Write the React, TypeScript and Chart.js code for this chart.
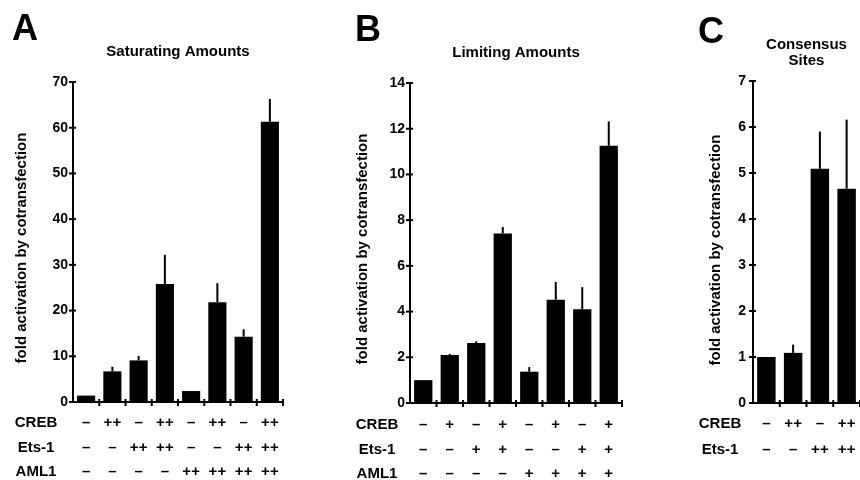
import React, { useEffect, useRef } from 'react';
import { Chart, registerables } from 'chart.js';

Chart.register(...registerables);

const FONT = '"Liberation Sans", Arial, Helvetica, sans-serif';

// ---------- Panel A: Saturating Amounts ----------
const categoriesA = ['1', '2', '3', '4', '5', '6', '7', '8'];
const valuesA = [1.4, 6.7, 9.1, 25.8, 2.4, 21.8, 14.3, 61.3];
const errorsA = [0, 1.0, 1.0, 6.4, 0, 4.2, 1.6, 5.0];
const yTicksA = [0, 10, 20, 30, 40, 50, 60, 70];
const crebA = ['–', '++', '–', '++', '–', '++', '–', '++'];
const ets1A = ['–', '–', '++', '++', '–', '–', '++', '++'];
const aml1A = ['–', '–', '–', '–', '++', '++', '++', '++'];

// ---------- Panel B: Limiting Amounts ----------
const categoriesB = ['1', '2', '3', '4', '5', '6', '7', '8'];
const valuesB = [1.0, 2.1, 2.62, 7.42, 1.37, 4.52, 4.1, 11.25];
const errorsB = [0, 0.05, 0.08, 0.28, 0.2, 0.78, 0.97, 1.07];
const yTicksB = [0, 2, 4, 6, 8, 10, 12, 14];
const crebB = ['–', '+', '–', '+', '–', '+', '–', '+'];
const ets1B = ['–', '–', '+', '+', '–', '–', '+', '+'];
const aml1B = ['–', '–', '–', '–', '+', '+', '+', '+'];

// ---------- Panel C: Consensus Sites ----------
const categoriesC = ['1', '2', '3', '4'];
const valuesC = [1.0, 1.09, 5.09, 4.66];
const errorsC = [0, 0.18, 0.81, 1.5];
const yTicksC = [0, 1, 2, 3, 4, 5, 6, 7];
const crebC = ['–', '++', '–', '++'];
const ets1C = ['–', '–', '++', '++'];

const yAxisTitle = 'fold activation by cotransfection';

interface Panel {
  left: number;
  width: number;
  letter: string;
  letterX: number;
  letterY: number;
  title: string[];
  titleY: number[];
  categories: string[];
  values: number[];
  errors: number[];
  yTicks: number[];
  rows: { name: string; marks: string[] }[];
  rowY: number[];
  rowNameX: number;
  yTitleX: number;
  yTitleY: number;
  axisWidth: number;
  padTop: number;
  padRight: number;
  padBottom: number;
  tickPad: number;
}

const panels: Panel[] = [
  {
    left: 0, width: 330, letter: 'A', letterX: 12, letterY: 40,
    title: ['Saturating Amounts'], titleY: [52],
    categories: categoriesA, values: valuesA, errors: errorsA, yTicks: yTicksA,
    rows: [
      { name: 'CREB', marks: crebA },
      { name: 'Ets-1', marks: ets1A },
      { name: 'AML1', marks: aml1A },
    ],
    rowY: [21, 46, 70], rowNameX: 36, yTitleX: 22, yTitleY: 248,
    axisWidth: 73, padTop: 82, padRight: 47, padBottom: 68, tickPad: 5,
  },
  {
    left: 330, width: 300, letter: 'B', letterX: 25, letterY: 41,
    title: ['Limiting Amounts'], titleY: [53],
    categories: categoriesB, values: valuesB, errors: errorsB, yTicks: yTicksB,
    rows: [
      { name: 'CREB', marks: crebB },
      { name: 'Ets-1', marks: ets1B },
      { name: 'AML1', marks: aml1B },
    ],
    rowY: [22, 47, 71], rowNameX: 47, yTitleX: 33, yTitleY: 249,
    axisWidth: 80, padTop: 83, padRight: 8, padBottom: 67, tickPad: 5,
  },
  {
    left: 630, width: 230, letter: 'C', letterX: 68, letterY: 43,
    title: ['Consensus', 'Sites'], titleY: [45, 61],
    categories: categoriesC, values: valuesC, errors: errorsC, yTicks: yTicksC,
    rows: [
      { name: 'CREB', marks: crebC },
      { name: 'Ets-1', marks: ets1C },
    ],
    rowY: [21, 47], rowNameX: 90, yTitleX: 86, yTitleY: 250,
    axisWidth: 123, padTop: 81, padRight: 0, padBottom: 67, tickPad: 7,
  },
];

function makeDecor(p: Panel) {
  return {
    id: 'decor' + p.letter,
    afterDatasetsDraw(chart: any) {
      const ctx = chart.ctx;
      const yScale = chart.scales.y;
      const meta = chart.getDatasetMeta(0);
      ctx.save();
      ctx.strokeStyle = '#000';
      ctx.lineWidth = 2;
      meta.data.forEach((el: any, i: number) => {
        const e = p.errors[i];
        if (!e) return;
        const yTop = yScale.getPixelForValue(p.values[i] + e);
        ctx.beginPath();
        ctx.moveTo(el.x, el.y);
        ctx.lineTo(el.x, yTop);
        ctx.stroke();
      });
      ctx.restore();
    },
    afterDraw(chart: any) {
      const ctx = chart.ctx;
      const ca = chart.chartArea;
      const xScale = chart.scales.x;
      const yScale = chart.scales.y;
      ctx.save();
      ctx.fillStyle = '#000';
      ctx.strokeStyle = '#000';
      ctx.lineWidth = 2;

      // y tick marks crossing the axis
      yScale.ticks.forEach((t: any) => {
        const y = yScale.getPixelForValue(t.value);
        ctx.beginPath();
        ctx.moveTo(ca.left - 4, y);
        ctx.lineTo(ca.left + 3, y);
        ctx.stroke();
      });
      // x tick marks at category boundaries
      const n = p.categories.length;
      for (let i = 1; i <= n; i++) {
        const x = ca.left + (i * (ca.right - ca.left)) / n;
        ctx.beginPath();
        ctx.moveTo(x, ca.bottom - 3);
        ctx.lineTo(x, ca.bottom + 4);
        ctx.stroke();
      }

      // panel letter
      ctx.font = `bold 36px ${FONT}`;
      ctx.textAlign = 'left';
      ctx.textBaseline = 'alphabetic';
      ctx.fillText(p.letter, p.letterX, p.letterY);

      // title
      ctx.font = `bold 15px ${FONT}`;
      ctx.textAlign = 'center';
      ctx.textBaseline = 'middle';
      const cx = (ca.left + ca.right) / 2;
      p.title.forEach((line, i) => ctx.fillText(line, cx, p.titleY[i]));

      // y-axis title
      ctx.save();
      ctx.font = `bold 15px ${FONT}`;
      ctx.translate(p.yTitleX, p.yTitleY);
      ctx.rotate(-Math.PI / 2);
      ctx.textAlign = 'center';
      ctx.textBaseline = 'middle';
      ctx.fillText(yAxisTitle, 0, 0);
      ctx.restore();

      // condition rows
      ctx.font = `bold 15px ${FONT}`;
      ctx.textAlign = 'center';
      ctx.textBaseline = 'middle';
      p.rows.forEach((row, r) => {
        const y = ca.bottom + p.rowY[r];
        ctx.fillText(row.name, p.rowNameX, y);
        row.marks.forEach((m, j) => {
          ctx.fillText(m, xScale.getPixelForValue(j), y);
        });
      });
      ctx.restore();
    },
  };
}

function PanelChart({ p }: { p: Panel }) {
  const ref = useRef<HTMLCanvasElement | null>(null);
  useEffect(() => {
    if (!ref.current) return;
    const chart = new Chart(ref.current, {
      type: 'bar',
      data: {
        labels: p.categories,
        datasets: [
          {
            data: p.values,
            backgroundColor: '#000',
            borderWidth: 0,
            barPercentage: 0.69,
            categoryPercentage: 1,
          },
        ],
      },
      options: {
        responsive: false,
        animation: false,
        devicePixelRatio: 1,
        layout: { padding: { left: 0, right: p.padRight, top: p.padTop, bottom: p.padBottom } },
        plugins: {
          legend: { display: false },
          tooltip: { enabled: false },
          title: { display: false },
        },
        scales: {
          x: {
            type: 'category',
            grid: { display: false, drawTicks: false },
            border: { display: true, color: '#000', width: 2 },
            ticks: { display: false },
            afterFit: (s: any) => { s.height = 10; },
          },
          y: {
            type: 'linear',
            min: 0,
            max: p.yTicks[p.yTicks.length - 1],
            grid: { display: false, drawTicks: false },
            border: { display: true, color: '#000', width: 2 },
            ticks: {
              color: '#000',
              font: { family: FONT, size: 14, weight: 'bold' },
              padding: p.tickPad,
            },
            afterBuildTicks: (s: any) => { s.ticks = p.yTicks.map((v) => ({ value: v })); },
            afterFit: (s: any) => { s.width = p.axisWidth; },
          },
        },
      } as any,
      plugins: [makeDecor(p)],
    });
    return () => chart.destroy();
  }, [p]);
  return (
    <canvas
      ref={ref}
      width={p.width}
      height={480}
      style={{ position: 'absolute', left: p.left, top: 0, width: p.width, height: 480 }}
    />
  );
}

export default function App() {
  useEffect(() => {
    document.body.style.margin = '0';
  }, []);
  return (
    <div style={{ position: 'fixed', left: 0, top: 0, width: 860, height: 480, background: '#fff', overflow: 'hidden' }}>
      {panels.map((p) => (
        <PanelChart key={p.letter} p={p} />
      ))}
    </div>
  );
}
